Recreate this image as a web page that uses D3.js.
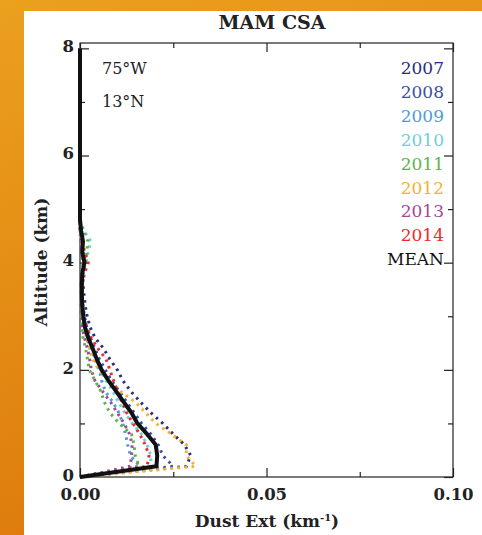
<!DOCTYPE html>
<html><head><meta charset="utf-8">
<script src="https://cdn.jsdelivr.net/npm/d3@7"></script>
<style>body{margin:0;overflow:hidden;background:#fff}</style>
</head><body><svg id="c" width="482" height="535"></svg>
<script>
const altitudes = [0,0.2,0.4,0.6,0.8,1.0,1.2,1.4,1.6,1.8,2.0,2.2,2.4,2.6,2.8,3.0,3.2,3.4,3.6,3.8,4.0,4.2,4.4,4.6,4.8,5.0,8.0];
const years = ["2007","2008","2009","2010","2011","2012","2013","2014"];
const yearColors = ["#2b2d7c","#3a4fa6","#4f9bd9","#6fcfd9","#5ab54b","#f6b12e","#a6469a","#ec2a2a"];
const v2007 = [0,.0285,.0297,.028,.025,.0222,.019,.0162,.0136,.0115,.0100,.0080,.0063,.0040,.0027,.0019,.0014,.0011,.0008,.0008,.0012,.0008,.0005,.0002,0,0,0];
const v2008 = [0,.025,.0222,.021,.019,.0165,.0145,.0125,.0105,.0085,.0068,.0052,.0040,.0028,.0018,.0012,.0008,.0006,.0005,.0006,.0010,.0006,.0004,0,0,0,0];
const v2009 = [0,.016,.0135,.0128,.0122,.0115,.0104,.0088,.0068,.0058,.0052,.0040,.0028,.0018,.0012,.0008,.0005,.0004,.0004,.0005,.0008,.0005,.0003,0,0,0,0];
const v2010 = [0,.019,.019,.018,.0165,.014,.012,.0103,.0088,.007,.0055,.0042,.0032,.0024,.0016,.0011,.0008,.0006,.0005,.0008,.0015,.0022,.0029,.001,0,0,0];
const v2011 = [0,.0158,.0148,.0145,.0138,.0105,.008,.0065,.0056,.004,.0025,.002,.0015,.0008,.0004,.0002,.0002,.0003,.0003,.0006,.0016,.0018,.0021,.0008,0,0,0];
const v2012 = [0,.031,.0285,.0285,.0245,.0203,.0176,.0148,.0108,.0078,.005,.0034,.0025,.0018,.0012,.0008,.0006,.0004,.0004,.0006,.0008,.0005,.0003,0,0,0,0];
const v2013 = [0,.0135,.0138,.014,.0133,.0118,.010,.0082,.006,.004,.003,.0026,.002,.0012,.0006,.0004,.0003,.0003,.0003,.0005,.0008,.0004,.0002,0,0,0,0];
const v2014 = [0,.018,.0185,.0175,.016,.0142,.0125,.0112,.0100,.0090,.0080,.0070,.0048,.003,.0018,.0008,.0004,.0004,.0006,.0012,.0022,.0012,.0006,.0002,0,0,0];
const vMean = [0,.0205,.0207,.0203,.018,.0154,.0138,.0117,.0097,.0076,.0058,.0045,.0034,.0022,.0013,.0009,.0006,.0005,.0005,.0006,.0012,.0006,.0008,.0003,0,0,0];
const yearValues = [v2007,v2008,v2009,v2010,v2011,v2012,v2013,v2014];
const xMajorTicks = [0,0.05,0.10];
const xMinorTicks = [0.025,0.075];
const yMajorTicks = [0,2,4,6,8];
const yMinorTicks = [1,3,5,7];
const title = "MAM CSA";
const locLabels = ["75°W","13°N"];

const svg = d3.select("#c");
const W = 482, H = 535;
const serif = "'DejaVu Serif', serif";

// background
const defs = svg.append("defs");
const g1 = defs.append("linearGradient").attr("id","bg").attr("x1","0").attr("y1","0").attr("x2","0.3").attr("y2","1");
g1.append("stop").attr("offset","0").attr("stop-color","#eba01e");
g1.append("stop").attr("offset","1").attr("stop-color","#dd7a0c");
svg.append("rect").attr("width",W).attr("height",H).attr("fill","url(#bg)");
svg.append("rect").attr("x",24).attr("y",11).attr("width",W-24).attr("height",H-11).attr("fill","#fff");

const L = 80, R = 453, T = 43, B = 477;
const x = d3.scaleLinear().domain([0,0.10]).range([L,R]);
const y = d3.scaleLinear().domain([0,8.1]).range([B,T]);

// frame
svg.append("rect").attr("x",L).attr("y",T).attr("width",R-L).attr("height",B-T)
  .attr("fill","none").attr("stroke","#222").attr("stroke-width",1.2);

function styleAxis(g){ g.select(".domain").remove(); g.selectAll("line").attr("stroke","#222").attr("stroke-width",1.2); }

// ticks
svg.append("g").attr("transform",`translate(0,${B})`)
  .call(d3.axisBottom(x).tickValues(xMajorTicks).tickSize(-9).tickPadding(11).tickFormat(d3.format(".2f")))
  .call(styleAxis)
  .selectAll("text").attr("font-family",serif).attr("font-weight","bold").attr("font-size",16.5).attr("fill","#222");
svg.append("g").attr("transform",`translate(0,${B})`)
  .call(d3.axisBottom(x).tickValues(xMinorTicks).tickSize(-5).tickFormat("")).call(styleAxis);
svg.append("g").attr("transform",`translate(0,${T})`)
  .call(d3.axisTop(x).tickValues(xMajorTicks).tickSize(-9).tickFormat("")).call(styleAxis);
svg.append("g").attr("transform",`translate(0,${T})`)
  .call(d3.axisTop(x).tickValues(xMinorTicks).tickSize(-5).tickFormat("")).call(styleAxis);

svg.append("g").attr("transform",`translate(${L},0)`)
  .call(d3.axisLeft(y).tickValues(yMajorTicks).tickSize(-9).tickPadding(6).tickFormat(d3.format("d")))
  .call(styleAxis)
  .selectAll("text").attr("font-family",serif).attr("font-weight","bold").attr("font-size",16.5).attr("fill","#222")
  .attr("dy","0.2em");
svg.append("g").attr("transform",`translate(${L},0)`)
  .call(d3.axisLeft(y).tickValues(yMinorTicks).tickSize(-5).tickFormat("")).call(styleAxis);
svg.append("g").attr("transform",`translate(${R},0)`)
  .call(d3.axisRight(y).tickValues(yMajorTicks).tickSize(-9).tickFormat("")).call(styleAxis);
svg.append("g").attr("transform",`translate(${R},0)`)
  .call(d3.axisRight(y).tickValues(yMinorTicks).tickSize(-5).tickFormat("")).call(styleAxis);

// lines
const line = d3.line().x(d=>x(d[0])).y(d=>y(d[1]));
yearValues.forEach((vals,i)=>{
  const pts = vals.map((v,j)=>[v,altitudes[j]]);
  svg.append("path").attr("d",line(pts)).attr("fill","none")
    .attr("stroke",yearColors[i]).attr("stroke-width",3).attr("stroke-dasharray","2.5,4.5");
});
svg.append("path").attr("d",line(vMean.map((v,j)=>[v,altitudes[j]]))).attr("fill","none")
  .attr("stroke","#111").attr("stroke-width",4).attr("stroke-linejoin","round");

// legend
const legendNames = years.concat(["MEAN"]);
const legendColors = yearColors.concat(["#111"]);
legendNames.forEach((n,i)=>{
  svg.append("text").attr("x",444).attr("y",74+i*23.9).attr("text-anchor","end")
    .attr("font-family",serif).attr("font-size",17).attr("fill",legendColors[i]).text(n);
});
locLabels.forEach((t,i)=>{
  svg.append("text").attr("x",102).attr("y",74+i*33).attr("font-family",serif).attr("font-size",16).attr("fill","#222").text(t);
});

// titles
svg.append("text").attr("x",272).attr("y",29).attr("text-anchor","middle")
  .attr("font-family",serif).attr("font-weight","bold").attr("font-size",19).attr("fill","#222").text(title);
const xt = svg.append("text").attr("x",267).attr("y",527).attr("text-anchor","middle")
  .attr("font-family",serif).attr("font-weight","bold").attr("font-size",17).attr("fill","#222");
xt.append("tspan").text("Dust Ext (km");
xt.append("tspan").attr("dy",-6).attr("font-size",10).text("-1");
xt.append("tspan").attr("dy",6).text(")");
svg.append("text").attr("transform","translate(47,262) rotate(-90)").attr("text-anchor","middle")
  .attr("font-family",serif).attr("font-weight","bold").attr("font-size",17).attr("fill","#222").text("Altitude (km)");
</script></body></html>
